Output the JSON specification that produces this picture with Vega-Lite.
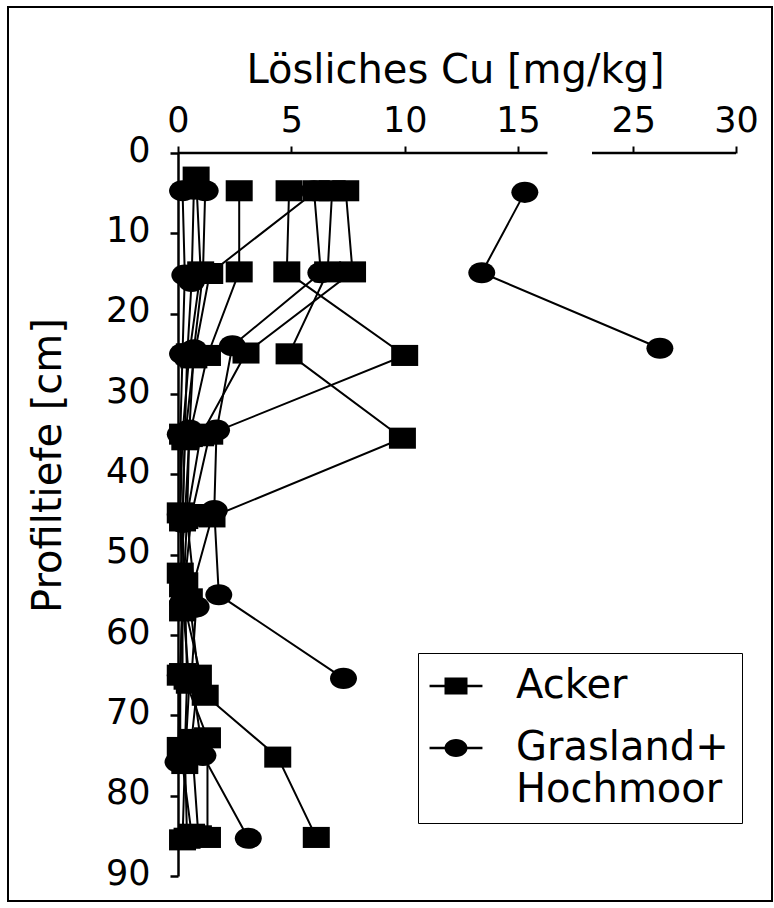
{
  "$schema": "https://vega.github.io/schema/vega-lite/v6.json",
  "width": 764,
  "height": 894,
  "autosize": {"type": "none"},
  "padding": {"left": 8, "top": 7, "right": 2, "bottom": 7},
  "background": "white",
  "config": {
    "view": {"stroke": "black", "strokeWidth": 2},
    "font": "DejaVu Sans",
    "axis": {"domainColor": "black", "tickColor": "black", "labelColor": "black", "titleColor": "black", "labelFont": "DejaVu Sans", "titleFont": "DejaVu Sans", "titleFontWeight": "normal", "grid": false},
    "legend": {"labelFont": "DejaVu Sans", "labelColor": "black"}
  },
  "datasets": {
    "axisline": [
      {"cu": 0, "cu2": 16.3, "d": 0},
      {"cu": 23, "cu2": 30, "d": 0}
    ],
    "profiles": [
      {"p": "A1", "t": "Acker", "cu": 4.9, "d": 4.7},
      {"p": "A1", "t": "Acker", "cu": 4.8, "d": 14.8},
      {"p": "A1", "t": "Acker", "cu": 10.0, "d": 25.2},
      {"p": "A1", "t": "Acker", "cu": 1.4, "d": 35.0},
      {"p": "A1", "t": "Acker", "cu": 0.6, "d": 45.0},
      {"p": "A1", "t": "Acker", "cu": 0.3, "d": 53.5},
      {"p": "A1", "t": "Acker", "cu": 0.4, "d": 65.5},
      {"p": "A1", "t": "Acker", "cu": 0.3, "d": 74.5},
      {"p": "A1", "t": "Acker", "cu": 0.4, "d": 85.3},
      {"p": "A2", "t": "Acker", "cu": 6.8, "d": 4.7},
      {"p": "A2", "t": "Acker", "cu": 6.6, "d": 14.8},
      {"p": "A2", "t": "Acker", "cu": 4.9, "d": 25.0},
      {"p": "A2", "t": "Acker", "cu": 9.9, "d": 35.5},
      {"p": "A2", "t": "Acker", "cu": 1.5, "d": 45.3},
      {"p": "A2", "t": "Acker", "cu": 0.5, "d": 55.5},
      {"p": "A2", "t": "Acker", "cu": 0.9, "d": 65.0},
      {"p": "A2", "t": "Acker", "cu": 0.6, "d": 73.0},
      {"p": "A2", "t": "Acker", "cu": 0.9, "d": 85.0},
      {"p": "A3", "t": "Acker", "cu": 7.4, "d": 4.7},
      {"p": "A3", "t": "Acker", "cu": 7.7, "d": 14.8},
      {"p": "A3", "t": "Acker", "cu": 3.0, "d": 24.9},
      {"p": "A3", "t": "Acker", "cu": 1.0, "d": 35.2},
      {"p": "A3", "t": "Acker", "cu": 0.4, "d": 45.2},
      {"p": "A3", "t": "Acker", "cu": 0.2, "d": 57.0},
      {"p": "A3", "t": "Acker", "cu": 0.2, "d": 64.8},
      {"p": "A3", "t": "Acker", "cu": 1.3, "d": 72.8},
      {"p": "A3", "t": "Acker", "cu": 1.3, "d": 85.2},
      {"p": "A4", "t": "Acker", "cu": 2.7, "d": 4.7},
      {"p": "A4", "t": "Acker", "cu": 2.7, "d": 14.8},
      {"p": "A4", "t": "Acker", "cu": 1.3, "d": 25.2},
      {"p": "A4", "t": "Acker", "cu": 0.5, "d": 35.3},
      {"p": "A4", "t": "Acker", "cu": 0.3, "d": 45.5},
      {"p": "A4", "t": "Acker", "cu": 0.1, "d": 52.3},
      {"p": "A4", "t": "Acker", "cu": 0.5, "d": 66.0},
      {"p": "A4", "t": "Acker", "cu": 0.3, "d": 76.0},
      {"p": "A4", "t": "Acker", "cu": 0.2, "d": 85.5},
      {"p": "A5", "t": "Acker", "cu": 6.1, "d": 4.7},
      {"p": "A5", "t": "Acker", "cu": 1.4, "d": 15.0},
      {"p": "A5", "t": "Acker", "cu": 0.7, "d": 25.5},
      {"p": "A5", "t": "Acker", "cu": 0.3, "d": 35.7},
      {"p": "A5", "t": "Acker", "cu": 0.2, "d": 45.8},
      {"p": "A5", "t": "Acker", "cu": 0.3, "d": 56.5},
      {"p": "A5", "t": "Acker", "cu": 1.2, "d": 67.5},
      {"p": "A5", "t": "Acker", "cu": 4.4, "d": 75.2},
      {"p": "A5", "t": "Acker", "cu": 6.1, "d": 85.2},
      {"p": "A6", "t": "Acker", "cu": 0.8, "d": 3.0},
      {"p": "A6", "t": "Acker", "cu": 1.0, "d": 14.8},
      {"p": "A6", "t": "Acker", "cu": 0.5, "d": 25.0},
      {"p": "A6", "t": "Acker", "cu": 0.2, "d": 35.0},
      {"p": "A6", "t": "Acker", "cu": 0.1, "d": 44.8},
      {"p": "A6", "t": "Acker", "cu": 0.2, "d": 54.0},
      {"p": "A6", "t": "Acker", "cu": 0.1, "d": 65.0},
      {"p": "A6", "t": "Acker", "cu": 0.1, "d": 74.0},
      {"p": "A6", "t": "Acker", "cu": 0.6, "d": 84.8},
      {"p": "G1", "t": "Grasland+ Hochmoor", "cu": 15.3, "d": 4.9},
      {"p": "G1", "t": "Grasland+ Hochmoor", "cu": 13.4, "d": 14.9},
      {"p": "G1", "t": "Grasland+ Hochmoor", "cu": 26.3, "d": 24.3},
      {"p": "G2", "t": "Grasland+ Hochmoor", "cu": 6.0, "d": 4.7},
      {"p": "G2", "t": "Grasland+ Hochmoor", "cu": 6.3, "d": 14.9},
      {"p": "G2", "t": "Grasland+ Hochmoor", "cu": 2.4, "d": 24.0},
      {"p": "G2", "t": "Grasland+ Hochmoor", "cu": 1.7, "d": 34.5},
      {"p": "G2", "t": "Grasland+ Hochmoor", "cu": 1.6, "d": 44.5},
      {"p": "G2", "t": "Grasland+ Hochmoor", "cu": 1.8, "d": 55.0},
      {"p": "G2", "t": "Grasland+ Hochmoor", "cu": 7.3, "d": 65.4},
      {"p": "G3", "t": "Grasland+ Hochmoor", "cu": 0.2, "d": 4.7},
      {"p": "G3", "t": "Grasland+ Hochmoor", "cu": 0.3, "d": 15.2},
      {"p": "G3", "t": "Grasland+ Hochmoor", "cu": 0.2, "d": 25.0},
      {"p": "G3", "t": "Grasland+ Hochmoor", "cu": 0.1, "d": 35.0},
      {"p": "G3", "t": "Grasland+ Hochmoor", "cu": 0.1, "d": 45.0},
      {"p": "G3", "t": "Grasland+ Hochmoor", "cu": 0.2, "d": 56.0},
      {"p": "G3", "t": "Grasland+ Hochmoor", "cu": 0.1, "d": 65.0},
      {"p": "G3", "t": "Grasland+ Hochmoor", "cu": 0.0, "d": 75.8},
      {"p": "G4", "t": "Grasland+ Hochmoor", "cu": 1.2, "d": 4.7},
      {"p": "G4", "t": "Grasland+ Hochmoor", "cu": 1.1, "d": 15.0},
      {"p": "G4", "t": "Grasland+ Hochmoor", "cu": 0.7, "d": 24.5},
      {"p": "G4", "t": "Grasland+ Hochmoor", "cu": 0.5, "d": 34.5},
      {"p": "G4", "t": "Grasland+ Hochmoor", "cu": 0.4, "d": 45.5},
      {"p": "G4", "t": "Grasland+ Hochmoor", "cu": 0.8, "d": 56.5},
      {"p": "G4", "t": "Grasland+ Hochmoor", "cu": 0.6, "d": 65.0},
      {"p": "G4", "t": "Grasland+ Hochmoor", "cu": 1.1, "d": 75.0},
      {"p": "G4", "t": "Grasland+ Hochmoor", "cu": 3.1, "d": 85.3},
      {"p": "G5", "t": "Grasland+ Hochmoor", "cu": 0.7, "d": 4.5},
      {"p": "G5", "t": "Grasland+ Hochmoor", "cu": 0.6, "d": 16.0},
      {"p": "G5", "t": "Grasland+ Hochmoor", "cu": 0.4, "d": 25.5},
      {"p": "G5", "t": "Grasland+ Hochmoor", "cu": 0.3, "d": 35.5},
      {"p": "G5", "t": "Grasland+ Hochmoor", "cu": 0.2, "d": 46.0}
    ]
  },
  "encoding": {
    "x": {
      "field": "cu",
      "type": "quantitative",
      "scale": {"domain": [0, 16.3, 23, 30], "range": [170, 539.5, 584, 728], "nice": false, "zero": false},
      "axis": {
        "orient": "top",
        "offset": -146,
        "values": [0, 5, 10, 15, 25, 30],
        "domain": false,
        "tickSize": 7,
        "tickWidth": 2,
        "labelFontSize": 35,
        "labelPadding": 15,
        "labelBaseline": "alphabetic",
        "labelFlush": false,
        "labelOverlap": false,
        "title": "Lösliches Cu [mg/kg]",
        "titleFontSize": 40,
        "titleX": 447,
        "titleY": -71,
        "titleAlign": "center",
        "titleBaseline": "alphabetic"
      }
    },
    "y": {
      "field": "d",
      "type": "quantitative",
      "scale": {"domain": [0, 90], "range": [146, 869], "nice": false, "zero": false},
      "axis": {
        "orient": "left",
        "offset": -170,
        "values": [0, 10, 20, 30, 40, 50, 60, 70, 80, 90],
        "domainWidth": 2.5,
        "tickSize": 8,
        "tickWidth": 2.5,
        "labelFontSize": 35,
        "labelPadding": 20,
        "labelOffset": -3,
        "labelFlush": false,
        "labelOverlap": false,
        "title": "Profiltiefe [cm]",
        "titleFontSize": 40,
        "titleX": -118,
        "titleY": 458,
        "titleAngle": 270,
        "titleAlign": "center",
        "titleBaseline": "alphabetic"
      }
    }
  },
  "layer": [
    {
      "data": {"name": "axisline"},
      "mark": {"type": "rule", "color": "black", "strokeWidth": 2.5},
      "encoding": {"x2": {"field": "cu2"}}
    },
    {
      "data": {"name": "profiles"},
      "mark": {"type": "line", "color": "black", "strokeWidth": 2},
      "encoding": {
        "detail": {"field": "p", "type": "nominal"},
        "order": {"field": "d", "type": "quantitative"}
      }
    },
    {
      "data": {"name": "profiles"},
      "transform": [{"filter": "datum.t == 'Acker'"}],
      "mark": {"type": "point", "filled": true, "color": "black", "opacity": 1, "size": 729, "strokeWidth": 0, "shape": "M-1,-0.78H1V0.78H-1Z"}
    },
    {
      "data": {"name": "profiles"},
      "transform": [{"filter": "datum.t != 'Acker'"}],
      "mark": {"type": "point", "filled": true, "color": "black", "opacity": 1, "size": 729, "strokeWidth": 0, "shape": "M-1,0A1,0.78 0 1,1 1,0A1,0.78 0 1,1 -1,0Z"}
    },
    {
      "data": {"name": "profiles"},
      "transform": [{"filter": "false"}],
      "mark": {"type": "point", "filled": true, "color": "black", "opacity": 1, "size": 529},
      "encoding": {
        "shape": {
          "field": "t",
          "type": "nominal",
          "scale": {
            "domain": ["Acker", "Grasland+ Hochmoor"],
            "range": ["M-1,-0.74H1V0.74H-1Z M-2.3,-0.11H2.3V0.11H-2.3Z", "M-1,0A1,0.78 0 1,1 1,0A1,0.78 0 1,1 -1,0Z M-2.3,-0.11H2.3V0.11H-2.3Z"]
          },
          "legend": {
            "title": null,
            "orient": "none",
            "legendX": 410,
            "legendY": 646,
            "strokeColor": "black",
            "padding": 13,
            "labelFontSize": 40,
            "labelLimit": 400,
            "labelOffset": 40,
            "symbolOffset": 5,
            "rowPadding": 22,
            "symbolSize": 529,
            "symbolFillColor": "black",
            "symbolStrokeWidth": 0,
            "labelExpr": "datum.label == 'Acker' ? 'Acker' : ['Grasland+', 'Hochmoor']"
          }
        }
      }
    }
  ]
}
